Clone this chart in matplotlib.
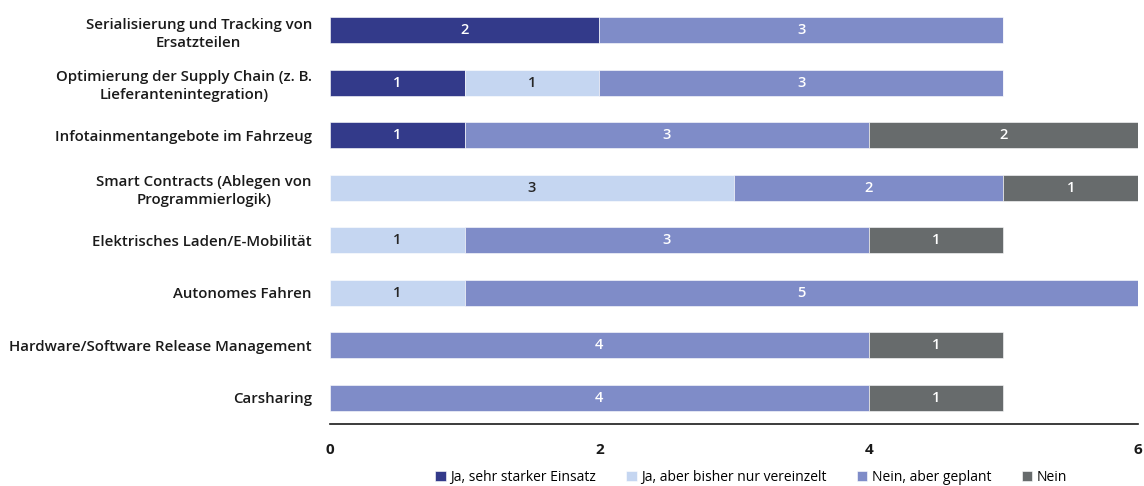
import numpy as np
import matplotlib
matplotlib.use("Agg")
import matplotlib.pyplot as plt

plt.rcParams['font.family'] = ['Open Sans', 'DejaVu Sans']

# Daten (von oben nach unten)
kategorien = [
    "Serialisierung und Tracking von\nErsatzteilen",
    "Optimierung der Supply Chain (z. B.\nLieferantenintegration)",
    "Infotainmentangebote im Fahrzeug",
    "Smart Contracts (Ablegen von\nProgrammierlogik)",
    "Elektrisches Laden/E-Mobilität",
    "Autonomes Fahren",
    "Hardware/Software Release Management",
    "Carsharing",
]
serien = ["Ja, sehr starker Einsatz", "Ja, aber bisher nur vereinzelt",
          "Nein, aber geplant", "Nein"]
ja_stark = [2, 1, 1, 0, 0, 0, 0, 0]
ja_vereinzelt = [0, 1, 0, 3, 1, 1, 0, 0]
nein_geplant = [3, 3, 3, 2, 3, 5, 4, 4]
nein = [0, 0, 2, 1, 1, 0, 1, 1]

farben = ["#333a8a", "#c5d6f1", "#7f8cc8", "#676b6c"]
textfarben = ["white", "#262626", "white", "white"]

fig = plt.figure(figsize=(11.44, 4.86), dpi=100)
ax = fig.add_axes([330 / 1144, 1 - 424 / 486, 808 / 1144, 420 / 486])

y = np.arange(len(kategorien))
links = np.zeros(len(kategorien))
for name, werte, farbe, tf in zip(serien, [ja_stark, ja_vereinzelt, nein_geplant, nein],
                                  farben, textfarben):
    werte = np.array(werte, dtype=float)
    bars = ax.barh(y, werte, left=links, height=0.5, color=farbe,
                   edgecolor="white", linewidth=0.4, label=name)
    for b, w in zip(bars, werte):
        if w > 0:
            ax.text(b.get_x() + b.get_width() / 2, b.get_y() + b.get_height() / 2,
                    f"{int(w)}", ha="center", va="center", color=tf,
                    fontsize=10.5, fontweight="semibold")
    links += werte

ax.set_yticks(y)
ax.set_yticklabels(kategorien, fontsize=10.8, fontweight="semibold", color="#1a1a1a",
                   multialignment="center", linespacing=1.35)
ax.set_ylim(len(kategorien) - 0.5, -0.5)
ax.set_xlim(0, 6)
ax.set_xticks([0, 2, 4, 6])
ax.set_xticklabels(["0", "2", "4", "6"], fontsize=11, fontweight="bold",
                   color="#1a1a1a")
ax.tick_params(axis="y", length=0, pad=13)
ax.tick_params(axis="x", length=0, pad=14)
for s in ["top", "right", "left"]:
    ax.spines[s].set_visible(False)
ax.spines["bottom"].set_color("#1a1a1a")
ax.spines["bottom"].set_linewidth(1.2)

fig.legend(loc="center", bbox_to_anchor=(751 / 1144, 1 - 477 / 486), ncol=4,
           frameon=False, fontsize=10, handlelength=0.75, handleheight=0.75,
           handletextpad=0.3, columnspacing=2.2, borderaxespad=0)

fig.savefig("out.png", dpi=100)
